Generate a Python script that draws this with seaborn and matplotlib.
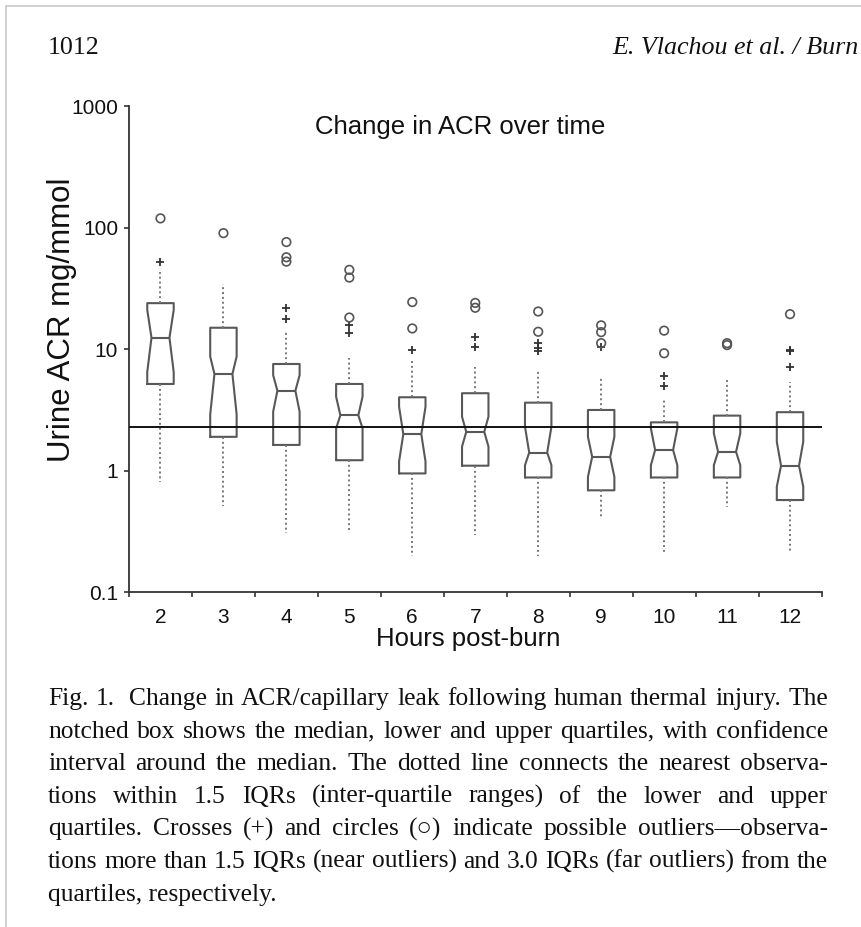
import numpy as np
import matplotlib
matplotlib.use("Agg")
import matplotlib.pyplot as plt
from matplotlib.lines import Line2D
from matplotlib.ticker import NullLocator
from matplotlib.transforms import IdentityTransform
import seaborn as sns

# ---- ACR (mg/mmol) summaries per hour post-burn ---------------------------
hours = [2, 3, 4, 5, 6, 7, 8, 9, 10, 11, 12]
acr_whisker_low = [0.81, 0.51, 0.305, 0.305, 0.20, 0.296, 0.20, 0.41, 0.21, 0.50, 0.21]
acr_q1 = [5.17, 1.90, 1.63, 1.22, 0.95, 1.10, 0.88, 0.69, 0.88, 0.88, 0.574]
acr_median = [12.4, 6.25, 4.55, 2.86, 2.0, 2.09, 1.41, 1.30, 1.48, 1.43, 1.10]
acr_q3 = [23.9, 15.0, 7.55, 5.17, 4.02, 4.34, 3.63, 3.16, 2.50, 2.84, 3.03]
acr_whisker_high = [43.4, 34.4, 13.9, 8.4, 8.2, 7.1, 6.74, 5.76, 4.0, 5.76, 5.4]
acr_notch_low = [6.5, 2.9, 3.06, 2.23, 1.19, 1.58, 1.11, 0.89, 1.11, 1.11, 0.74]
acr_notch_high = [21.0, 8.7, 6.1, 4.06, 3.36, 2.78, 2.30, 1.90, 2.23, 2.03, 1.73]

# near outliers (1.5-3.0 IQR, crosses) and far outliers (>3.0 IQR, circles)
near_outlier_hours = [2, 4, 4, 5, 5, 6, 7, 7, 8, 8, 8, 9, 10, 10, 12, 12, 12]
near_outlier_acr = [52.5, 22.0, 17.7, 15.8, 13.5, 9.85, 12.6, 10.4, 11.3, 10.3, 9.7,
                    10.5, 6.0, 5.0, 9.8, 9.6, 7.1]
far_outlier_hours = [2, 3, 4, 4, 4, 5, 5, 5, 6, 6, 7, 7, 8, 8, 9, 9, 9, 10, 10, 11, 11, 12]
far_outlier_acr = [119, 90, 76, 57, 52.5, 44.9, 38.8, 18.2, 24.4, 14.8, 24.0, 21.9,
                   20.4, 13.9, 15.7, 13.8, 11.2, 14.2, 9.25, 11.2, 10.8, 19.4]
reference_acr = 2.28

y_ticks = [0.1, 1, 10, 100, 1000]
y_tick_labels = ["0.1", "1", "10", "100", "1000"]

caption_lines = [
    "Fig. 1.  Change in ACR/capillary leak following human thermal injury. The",
    "notched box shows the median, lower and upper quartiles, with confidence",
    "interval around the median. The dotted line connects the nearest observa-",
    "tions within 1.5 IQRs (inter-quartile ranges) of the lower and upper",
    "quartiles. Crosses (+) and circles (\u25CB) indicate possible outliers\u2014observa-",
    "tions more than 1.5 IQRs (near outliers) and 3.0 IQRs (far outliers) from the",
    "quartiles, respectively.",
]

# ---- figure -----------------------------------------------------------------
sns.set_style("ticks")
plt.rcParams["font.family"] = ["Liberation Sans", "DejaVu Sans"]

W, H = 861, 927
fig = plt.figure(figsize=(W / 100, H / 100), dpi=100)
fig.patch.set_facecolor("white")


def fx(x):
    return x / W


def fy(y):
    return 1 - y / H


ax_left, ax_right, ax_top, ax_bottom = 129, 821.5, 106, 592.3
ax = fig.add_axes([fx(ax_left), fy(ax_bottom), (ax_right - ax_left) / W,
                   (ax_bottom - ax_top) / H])
ax.set_facecolor("white")
ax.set_yscale("log")

box_color = "#585858"
box_width = 0.42
stats = [
    dict(med=m, q1=a, q3=b, whislo=lo, whishi=hi, cilo=cl, cihi=ch, fliers=[])
    for m, a, b, lo, hi, cl, ch in zip(acr_median, acr_q1, acr_q3, acr_whisker_low,
                                       acr_whisker_high, acr_notch_low, acr_notch_high)
]
parts = ax.bxp(stats, positions=hours, widths=box_width, shownotches=True,
               showcaps=False, showfliers=False, manage_ticks=False, patch_artist=False,
               boxprops=dict(color=box_color, linewidth=1.5),
               medianprops=dict(color=box_color, linewidth=1.5),
               whiskerprops=dict(color="#777777", linewidth=1.4,
                                 linestyle=(0, (1, 1.5))))

# shallower notches: the waist keeps about two thirds of the box width
notch_half = box_width * 0.34
for pos, box, med in zip(hours, parts["boxes"], parts["medians"]):
    xs = list(box.get_xdata())
    xs[3] = pos + notch_half
    xs[8] = pos - notch_half
    box.set_xdata(xs)
    med.set_xdata([pos - notch_half, pos + notch_half])

ax.axhline(reference_acr, color="#111111", linewidth=1.4, zorder=4)

sns.scatterplot(x=near_outlier_hours, y=near_outlier_acr, marker="+", s=40,
                color="#333333", linewidth=1.3, legend=False, ax=ax, zorder=5)
sns.scatterplot(x=far_outlier_hours, y=far_outlier_acr, marker="o", s=38,
                facecolors="none", edgecolor="#555555", linewidth=1.2,
                legend=False, ax=ax, zorder=5)

ax.set_ylim(0.1, 1000)
ax.set_xlim(hours[0] - 0.5, hours[-1] + 0.5)
ax.set_yticks(y_ticks, labels=y_tick_labels)
ax.yaxis.set_minor_locator(NullLocator())
ax.set_xticks(hours, labels=[str(h) for h in hours])
ax.set_xticks(np.arange(hours[0] - 0.5, hours[-1] + 1, 1.0), minor=True)

sns.despine(ax=ax)
for side in ("left", "bottom"):
    ax.spines[side].set_color("#333333")
    ax.spines[side].set_linewidth(1.3)
ax.tick_params(axis="y", which="major", length=3.8, width=1.2, color="#333333",
               labelsize=15, pad=4, labelcolor="#111111")
ax.tick_params(axis="x", which="major", length=0, labelsize=15, pad=11.5,
               labelcolor="#111111")
ax.tick_params(axis="x", which="minor", length=3.8, width=1.2, color="#333333")

ax.set_xlabel("Hours post-burn", fontsize=18.5, color="#111111", va="top")
ax.xaxis.set_label_coords((468 - ax_left) / (ax_right - ax_left),
                          -(627 - ax_bottom) / (ax_bottom - ax_top))
ax.set_ylabel("Urine ACR mg/mmol", fontsize=22.5, color="#111111")
ax.yaxis.label.set_va("center")
ax.yaxis.set_label_coords(-(ax_left - 62) / (ax_right - ax_left),
                          (ax_bottom - 320) / (ax_bottom - ax_top))

fig.text(fx(460), fy(134), "Change in ACR over time", ha="center", va="baseline",
         fontsize=18.5, color="#111111")

# ---- page frame, running head and caption ------------------------------------
fig.add_artist(Line2D([fx(6), 1], [fy(6), fy(6)], transform=fig.transFigure,
                      color="#c8c8c8", linewidth=1.2))
fig.add_artist(Line2D([fx(6), fx(6)], [0, fy(6)], transform=fig.transFigure,
                      color="#c8c8c8", linewidth=1.2))

serif = ["Liberation Serif", "DejaVu Serif"]
renderer = fig.canvas.get_renderer()
pix = IdentityTransform()


def text_width(s, size, **kw):
    t = fig.text(0, 0, s, fontsize=size, family=serif, **kw)
    w = t.get_window_extent(renderer).width
    t.remove()
    return w


cap_left, cap_right = 48, 828
base_size = 16.0
natural = max(text_width(line, base_size) for line in caption_lines[:-1])
cap_size = base_size * (cap_right - cap_left) / natural * 0.995

for i, line in enumerate(caption_lines):
    baseline = H - (705 + 32.6 * i)
    if i == len(caption_lines) - 1:
        fig.text(cap_left, baseline, line, transform=pix, fontsize=cap_size,
                 family=serif, color="#111111", va="baseline")
        continue
    words = line.split(" ")
    widths = [text_width(w, cap_size) for w in words]
    gap = (cap_right - cap_left - sum(widths)) / (len(words) - 1)
    x = cap_left
    for w, wd in zip(words, widths):
        if w:
            fig.text(x, baseline, w, transform=pix, fontsize=cap_size, family=serif,
                     color="#111111", va="baseline")
        x += wd + gap

fig.text(48, H - 54, "1012", transform=pix, fontsize=cap_size * 1.02, family=serif,
         color="#111111", va="baseline")
fig.text(W - 2, H - 54, "E. Vlachou et al. / Burn", transform=pix,
         fontsize=cap_size * 1.02, family=serif, style="italic", color="#111111",
         va="baseline", ha="right")

fig.savefig("out.png", dpi=100, facecolor="white")
